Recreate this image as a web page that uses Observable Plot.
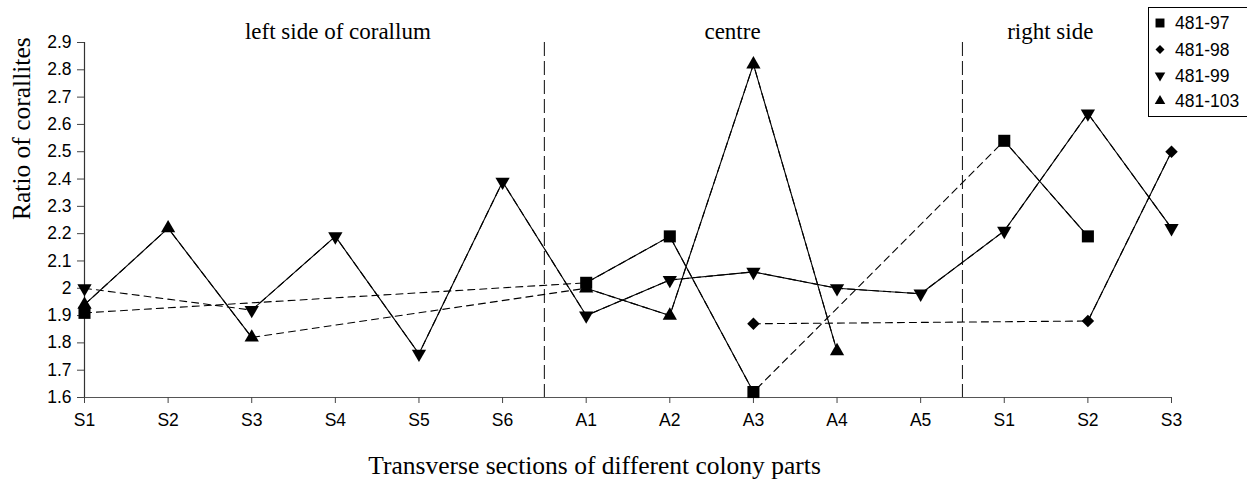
<!DOCTYPE html>
<html>
<head>
<meta charset="utf-8">
<script src="https://cdn.jsdelivr.net/npm/d3@7"></script>
<script src="https://cdn.jsdelivr.net/npm/@observablehq/plot@0.6"></script>
<style>
  html, body { margin: 0; padding: 0; background: #fff; }
  #wrap { position: relative; width: 1247px; height: 479px; overflow: hidden; }
  #legend { position: absolute; left: 0; top: 0; }
</style>
</head>
<body>
<div id="wrap"></div>
<script>
// ---- data ----
const sections = ["S1","S2","S3","S4","S5","S6","A1","A2","A3","A4","A5","S1","S2","S3"];
const seriesNames = ["481-97","481-98","481-99","481-103"];
const s97  = [1.91, null, null, null, null, null, 2.02, 2.19, 1.62, null, null, 2.54, 2.19, null];
const s98  = [null, null, null, null, null, null, null, null, 1.87, null, null, null, 1.88, 2.50];
const s99  = [2.00, null, 1.92, 2.19, 1.76, 2.39, 1.90, 2.03, 2.06, 2.00, 1.98, 2.21, 2.64, 2.22];
const s103 = [1.94, 2.22, 1.82, null, null, null, 2.00, 1.90, 2.82, 1.77, null, null, null, null];
const yTicks = [1.6,1.7,1.8,1.9,2.0,2.1,2.2,2.3,2.4,2.5,2.6,2.7,2.8,2.9];
const partNames = ["left side of corallum", "centre", "right side"];
const dividers = [5.5, 10.5];

const seriesValues = [s97, s98, s99, s103];
const symbols = [
  {symbol: "square", r: 6.8, rotate: 0},
  {symbol: "square", r: 5.0, rotate: 45},
  {symbol: "triangle", r: 5.3, rotate: 180},
  {symbol: "triangle", r: 5.3, rotate: 0}
];

const rows = [];
seriesNames.forEach((name, k) => {
  seriesValues[k].forEach((v, i) => rows.push({series: name, i, v}));
});

const partPos = [3.03, 7.75, 11.55];
const parts = partNames.map((t, k) => ({t, x: partPos[k]}));

const serif = "'Liberation Serif', 'Times New Roman', serif";
const sans = "'Liberation Sans', Arial, sans-serif";

const marks = [
  Plot.ruleX(dividers, {stroke: "#222", strokeWidth: 1.1, strokeDasharray: "14,5"}),
  Plot.ruleY([1.6], {stroke: "#555", strokeWidth: 1.2}),
  Plot.ruleX([0], {stroke: "#333", strokeWidth: 1.2}),
  Plot.axisY({ticks: yTicks, tickFormat: d => String(+d.toFixed(1)), tickSize: 7, tickPadding: 6, label: null, stroke: "#444"}),
  Plot.axisX({ticks: d3.range(sections.length), tickFormat: i => sections[i], tickSize: 6, tickPadding: 10, label: null, stroke: "#444"})
];

seriesNames.forEach((name, k) => {
  const data = rows.filter(d => d.series === name);
  const defined = data.filter(d => d.v != null);
  marks.push(Plot.line(defined, {x: "i", y: "v", stroke: "black", strokeWidth: 1.1, strokeDasharray: "7,5"}));
  marks.push(Plot.line(data, {x: "i", y: "v", stroke: "black", strokeWidth: 1.1}));
});
seriesNames.forEach((name, k) => {
  const defined = rows.filter(d => d.series === name && d.v != null);
  marks.push(Plot.dot(defined, {x: "i", y: "v", symbol: symbols[k].symbol, r: symbols[k].r, rotate: symbols[k].rotate, fill: "black", stroke: "none"}));
});

marks.push(Plot.text(parts, {x: "x", text: "t", frameAnchor: "top", lineAnchor: "bottom", dy: -4, fontFamily: serif, fontSize: 23}));
marks.push(Plot.text(["Ratio of corallites"], {frameAnchor: "left", rotate: -90, dx: -55, lineAnchor: "bottom", fontFamily: serif, fontSize: 25.5}));
marks.push(Plot.text(["Transverse sections of different colony parts"], {x: 6.1, frameAnchor: "bottom", lineAnchor: "middle", dy: 68, fontFamily: serif, fontSize: 25.5}));

const chart = Plot.plot({
  width: 1247,
  height: 479,
  marginLeft: 84,
  marginRight: 76,
  marginTop: 42,
  marginBottom: 82,
  x: {type: "linear", domain: [0, sections.length - 1]},
  y: {domain: [1.6, 2.9]},
  style: {fontFamily: sans, fontSize: "17.5px", color: "black", background: "white", overflow: "visible"},
  marks
});
const wrap = document.getElementById("wrap");
wrap.appendChild(chart);

// ---- legend ----
const leg = d3.select(wrap).append("svg").attr("id", "legend").attr("width", 1247).attr("height", 479);
leg.append("rect").attr("x", 1148.5).attr("y", 7.5).attr("width", 120).attr("height", 109)
  .attr("fill", "white").attr("stroke", "black").attr("stroke-width", 1);
const legSym = [
  {type: d3.symbolSquare, size: 80, rot: 0},
  {type: d3.symbolSquare, size: 40, rot: 45},
  {type: d3.symbolTriangle, size: 48, rot: 180},
  {type: d3.symbolTriangle, size: 48, rot: 0}
];
const rowY = [23, 49.5, 75.5, 101];
seriesNames.forEach((name, k) => {
  leg.append("path").attr("d", d3.symbol(legSym[k].type, legSym[k].size)())
    .attr("transform", `translate(1160,${rowY[k]}) rotate(${legSym[k].rot})`).attr("fill", "black");
  leg.append("text").attr("x", 1175).attr("y", rowY[k]).attr("dy", "0.35em")
    .attr("font-family", sans).attr("font-size", 17.5).text(name);
});
</script>
</body>
</html>
